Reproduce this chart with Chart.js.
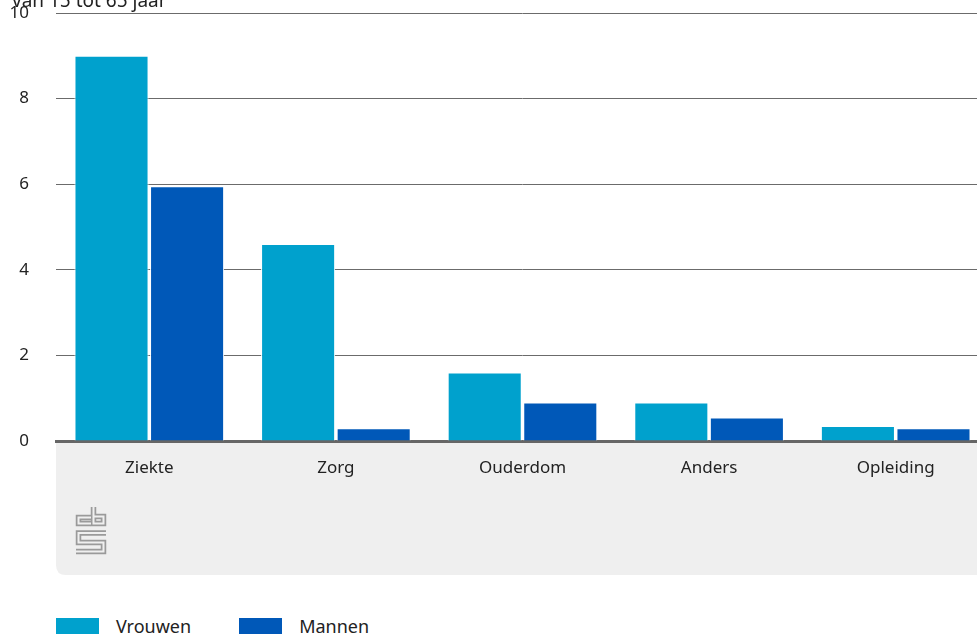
<!DOCTYPE html>
<html>
<head>
<meta charset="utf-8">
<script src="https://cdn.jsdelivr.net/npm/chart.js@4"></script>
<style>
  body { margin: 0; background: #fff; font-family: "Noto Sans", sans-serif; overflow: hidden; }
  #wrap { position: relative; width: 977px; height: 634px; overflow: hidden; }
  canvas { display: block; }
  #legend { position: absolute; left: 56px; top: 614px; display: flex; }
  .item { display: flex; align-items: center; margin-right: 48px; font-size: 18px; color: #222; }
  .box { width: 43px; height: 17px; margin-right: 17px; }
</style>
</head>
<body>
<div id="wrap">
  <canvas id="myChart" width="989" height="600"></canvas>
  <div id="legend"></div>
</div>
<script>
const categories = ["Ziekte", "Zorg", "Ouderdom", "Anders", "Opleiding"]
const vrouwen = [9.0, 4.6, 1.6, 0.9, 0.35]
const mannen = [5.95, 0.3, 0.9, 0.55, 0.3]
const seriesNames = ["Vrouwen", "Mannen"]
const colors = ["#00a1cd", "#0058b8"]
const yTicks = [0, 2, 4, 6, 8, 10]
const axisTitle = "van 15 tot 65 jaar"

const fontFamily = '"Noto Sans", sans-serif'

// grey panel under the x axis + cbs logo + axis title
const decor = {
  id: 'decor',
  beforeDraw(chart) {
    const c = chart.ctx
    const a = chart.chartArea
    const top = a.bottom, bottom = a.bottom + 134, left = a.left, right = chart.width
    const r = 10
    c.save()
    c.fillStyle = '#efefef'
    c.beginPath()
    c.moveTo(left, top)
    c.lineTo(right, top)
    c.lineTo(right, bottom)
    c.lineTo(left + r, bottom)
    c.quadraticCurveTo(left, bottom, left, bottom - r)
    c.closePath()
    c.fill()

    // logo
    const ox = a.left, oy = a.bottom
    const paths = [
      [[35, 76.5], [22.5, 76.5], [22.5, 82.5], [35, 82.5]],
      [[37.5, 66], [37.5, 82.5], [47.5, 82.5], [47.5, 75.5], [37.5, 75.5]],
      [[50, 92], [22.5, 92], [22.5, 101.5], [47.5, 101.5], [47.5, 110.5], [20, 110.5]]
    ]
    c.lineJoin = 'miter'
    c.lineCap = 'butt'
    for (const [w, col] of [[5.5, '#9a9a9a'], [2, '#efefef']]) {
      c.lineWidth = w
      c.strokeStyle = col
      for (const p of paths) {
        c.beginPath()
        p.forEach((pt, i) => i ? c.lineTo(ox + pt[0], oy + pt[1]) : c.moveTo(ox + pt[0], oy + pt[1]))
        c.stroke()
      }
    }
    c.restore()
  },
  afterDraw(chart) {
    const c = chart.ctx
    c.save()
    c.font = '19px ' + fontFamily
    c.fillStyle = '#222'
    c.textBaseline = 'alphabetic'
    c.fillText(axisTitle, 12, 7)
    c.restore()
  }
}

const ctx = document.getElementById('myChart')
new Chart(ctx, {
  type: 'bar',
  data: {
    labels: categories,
    datasets: [{
      label: seriesNames[0],
      data: vrouwen,
      backgroundColor: colors[0],
      borderColor: '#ffffff',
      borderWidth: 1
    },
    {
      label: seriesNames[1],
      data: mannen,
      backgroundColor: colors[1],
      borderColor: '#ffffff',
      borderWidth: 1
    }]
  },
  options: {
    responsive: false,
    animation: false,
    layout: { padding: { top: 13, right: 0, left: 0, bottom: 0 } },
    datasets: { bar: { categoryPercentage: 0.81, barPercentage: 0.98 } },
    plugins: { legend: { display: false }, tooltip: { enabled: false } },
    scales: {
      x: {
        grid: { display: false },
        border: { color: '#666666', width: 3 },
        ticks: { color: '#222', font: { family: fontFamily, size: 17 }, padding: 9 },
        afterFit(s) { s.height = 159; s.paddingLeft = 0; s.paddingRight = 0 }
      },
      y: {
        min: 0,
        max: 10,
        afterBuildTicks(s) { s.ticks = yTicks.map(v => ({ value: v })) },
        grid: { color: '#6b6b6b', lineWidth: 1, drawTicks: false },
        border: { display: false },
        ticks: { color: '#222', font: { family: fontFamily, size: 17 }, padding: 27 },
        afterFit(s) { s.width = 56; s.paddingTop = 0; s.paddingBottom = 0 }
      }
    }
  },
  plugins: [decor]
})

const legend = document.getElementById('legend')
seriesNames.forEach((n, i) => {
  const it = document.createElement('div')
  it.className = 'item'
  it.innerHTML = '<div class="box" style="background:' + colors[i] + '"></div>' + n
  legend.appendChild(it)
})
</script>
</body>
</html>
